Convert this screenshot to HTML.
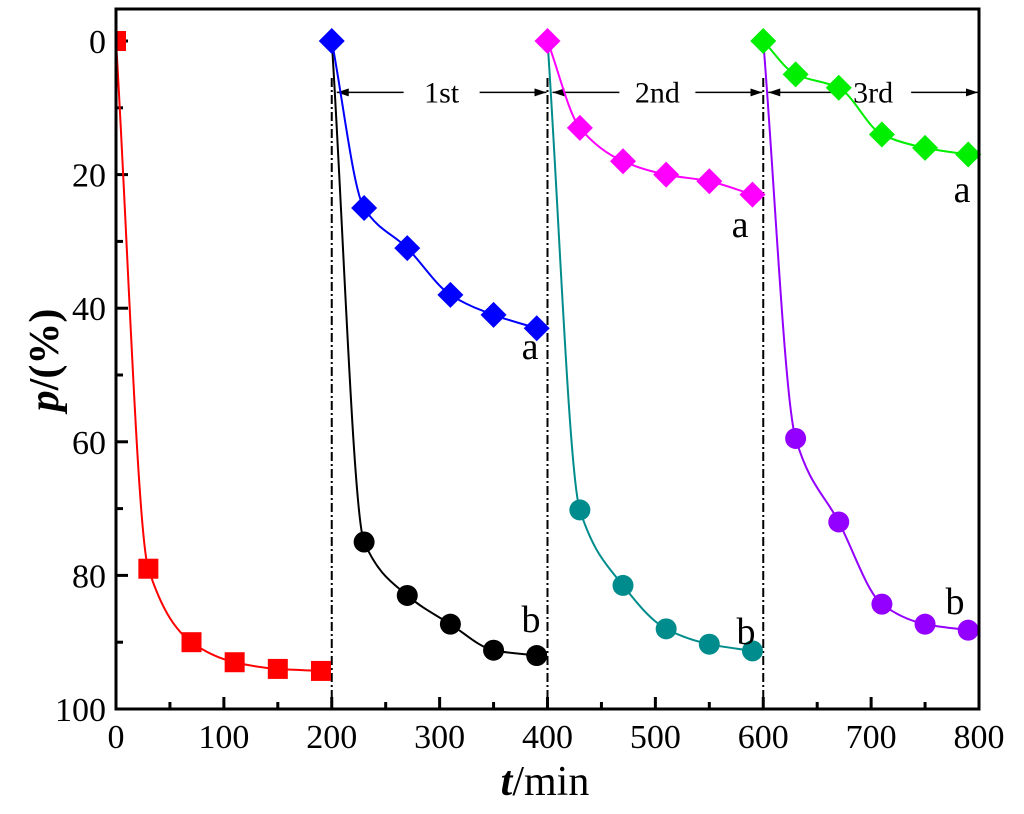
<!DOCTYPE html>
<html><head><meta charset="utf-8"><style>
html,body{margin:0;padding:0;background:#fff;}
svg{display:block;font-family:"Liberation Serif",serif;}
</style></head><body>
<svg id="chart" width="1024" height="814" viewBox="0 0 1024 814" xmlns="http://www.w3.org/2000/svg">
<g id="plot"></g>
</svg>
<script>
const xTicks=[0,100,200,300,400,500,600,700,800];
const yTicks=[0,20,40,60,80,100];
const redT=[0,30,70,110,150,190], redV=[0,79,90,93,94,94.3];
const blueT=[200,230,270,310,350,390], blueV=[0,25,31,38,41,43];
const blackT=[230,270,310,350,390], blackV=[75,83,87.3,91.2,92];
const magT=[400,430,470,510,550,590], magV=[0,13,18,20,21,23];
const tealT=[430,470,510,550,590], tealV=[70.2,81.5,88,90.3,91.3];
const greenT=[600,630,670,710,750,790], greenV=[0,5,7,14,16,17];
const purpT=[630,670,710,750,790], purpV=[59.5,72,84.3,87.3,88.2];
const cycleBounds=[200,400,600];
const cycleLabels=["1st","2nd","3rd"];

const NS="http://www.w3.org/2000/svg";
const g=document.getElementById('plot');
const X=t=>116+t*(979-116)/800;
const Y=v=>41+v*(709-41)/100;
function el(tag,attrs,parent){const e=document.createElementNS(NS,tag);for(const k in attrs)e.setAttribute(k,attrs[k]);(parent||g).appendChild(e);return e;}

let defs=el('defs',{});
let cp=el('clipPath',{id:'clip'},defs);
el('rect',{x:117,y:9,width:862,height:700},cp);
let mk=el('marker',{id:'ah',markerWidth:12,markerHeight:8,refX:12,refY:4,orient:'auto-start-reverse',markerUnits:'userSpaceOnUse'},defs);
el('path',{d:'M0,0 L12,4 L0,8 Z',fill:'#000'},mk);

// x ticks
for(let t=0;t<=800;t+=50){const major=t%100===0;let l=el('line',{x1:X(t),x2:X(t),y1:709,y2:major?697:702,stroke:'#000','stroke-width':3});

}
xTicks.forEach(t=>{let tx=el('text',{x:X(t),y:748,'font-size':34,'text-anchor':'middle'});tx.textContent=t;

});
for(let v=0;v<=100;v+=10){const major=v%20===0;let l=el('line',{x1:116,x2:major?128:123,y1:Y(v),y2:Y(v),stroke:'#000','stroke-width':3});

}
yTicks.forEach(v=>{let tx=el('text',{x:106,y:Y(v)+12,'font-size':34,'text-anchor':'end'});tx.textContent=v;

});
let xt=el('text',{x:545,y:795,'font-size':42,'text-anchor':'middle'});
xt.innerHTML='<tspan font-style="italic" font-weight="bold">t</tspan>/min';


let yt=el('text',{x:0,y:0,'font-size':42,'text-anchor':'middle','font-weight':'bold',transform:'translate(58,360) rotate(-90)'});
yt.innerHTML='<tspan font-style="italic">p</tspan>/(%)';



cycleBounds.forEach(t=>{let l=el('line',{x1:X(t),x2:X(t),y1:78,y2:709,stroke:'#000','stroke-width':2,'stroke-dasharray':'9,3,2,3'});

});
const ends=[...cycleBounds,800];
cycleLabels.forEach((lab,i)=>{
  const x1=X(ends[i])+5, x2=X(ends[i+1])-1, mid=(x1+x2)/2, ay=Y(7.7);
  let a1=el('line',{x1:mid-38,x2:x1,y1:ay,y2:ay,stroke:'#000','stroke-width':1.5,'marker-end':'url(#ah)'});
  
  
  let a2=el('line',{x1:mid+38,x2:x2,y1:ay,y2:ay,stroke:'#000','stroke-width':1.5,'marker-end':'url(#ah)'});
  
  
  let tx=el('text',{x:mid,y:ay+10,'font-size':30,'text-anchor':'middle'});tx.textContent=lab;
  
  
});

function monotone(pts){
  const n=pts.length,d=[],m=[];
  for(let i=0;i<n-1;i++)d.push((pts[i+1][1]-pts[i][1])/(pts[i+1][0]-pts[i][0]));
  m[0]=d[0];m[n-1]=d[n-2];
  for(let i=1;i<n-1;i++){m[i]=(d[i-1]*d[i]<=0)?0:2/(1/d[i-1]+1/d[i]);}
  let s=`M${pts[0][0]},${pts[0][1]}`;
  for(let i=0;i<n-1;i++){
    const h=(pts[i+1][0]-pts[i][0])/3;
    s+=` C${pts[i][0]+h},${pts[i][1]+m[i]*h} ${pts[i+1][0]-h},${pts[i+1][1]-m[i+1]*h} ${pts[i+1][0]},${pts[i+1][1]}`;
  }
  return s;
}
function series(name,T,V,color,shape,start){
  let pts=T.map((t,i)=>[X(t),Y(V[i])]);
  if(start!==null) pts=[[X(start),Y(0)]].concat(pts);
  let p=el('path',{d:monotone(pts),fill:'none',stroke:color,'stroke-width':2,'clip-path':'url(#clip)'});
  
  
  T.forEach((t,i)=>{
    const x=X(t),y=Y(V[i]);let m;
    if(shape==='sq') m=el('rect',{x:x-10,y:y-10,width:20,height:20,fill:color,'clip-path':'url(#clip)'});
    else if(shape==='di') m=el('path',{d:`M${x},${y-13} L${x+13},${y} L${x},${y+13} L${x-13},${y} Z`,fill:color});
    else m=el('circle',{cx:x,cy:y,r:10.5,fill:color});
    
    
  });
}
series('red',redT,redV,'#ff0000','sq',null);
series('black',blackT,blackV,'#000000','ci',200);
series('blue',blueT,blueV,'#0000ff','di',null);
series('teal',tealT,tealV,'#008c8c','ci',400);
series('magenta',magT,magV,'#ff00ff','di',null);
series('purple',purpT,purpV,'#9400ff','ci',600);
series('green',greenT,greenV,'#00ee00','di',null);

let fr=el('rect',{x:116,y:9,width:863,height:700,fill:'none',stroke:'#000','stroke-width':3});



[[530,359,'a'],[531,632,'b'],[740,237,'a'],[746,644,'b'],[962,202,'a'],[955,614,'b']].forEach(a=>{
  let tx=el('text',{x:a[0],y:a[1],'font-size':38,'text-anchor':'middle'});tx.textContent=a[2];
  
  
});
</script>
</body></html>
